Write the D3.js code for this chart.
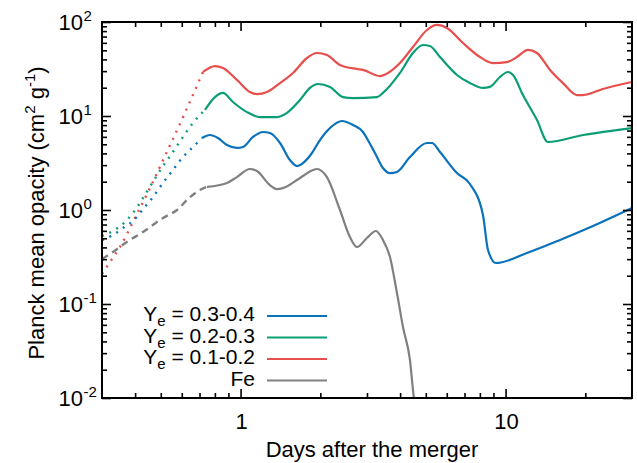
<!DOCTYPE html>
<html><head><meta charset="utf-8">
<script src="https://cdn.jsdelivr.net/npm/d3@7"></script>
<style>
body{margin:0;background:#fff;}
text{font-family:"Liberation Sans", Arial, Helvetica, sans-serif;fill:#000;}
</style></head><body>
<svg id="chart" width="637" height="463"></svg>
<script>
// ---------- data ----------
// Ye = 0.1-0.2 (red)
const redEarlyDays = [0.300, 0.3215, 0.3507, 0.3996, 0.455, 0.5184, 0.6168, 0.7212];
const redEarlyVals = [0.209, 0.28, 0.404, 0.822, 1.71, 3.75, 10.8, 29.4];
const redDays = [0.7212, 0.8005, 0.8584, 0.9692, 1.085, 1.153, 1.258, 1.409, 1.577, 1.781, 1.942, 2.118, 2.372, 2.75, 2.897, 3.357, 3.6, 3.995, 4.472, 5.05, 5.51, 6.009, 6.906, 8.007, 8.964, 10.12, 11.04, 12.15, 13.14, 14.71, 16.47, 18.6, 19.6, 23.31, 30];
const redVals = [29.4, 34.0, 32.4, 24.2, 18.0, 17.1, 18.0, 22.4, 28.7, 41.4, 46.8, 44.5, 34.9, 31.6, 30.9, 26.6, 28.7, 36.6, 54.2, 82.2, 93, 86.3, 59.8, 42.4, 36.6, 37.5, 42.4, 50.4, 46.8, 30.9, 22.4, 16.7, 16.7, 19.4, 23.0];
// Ye = 0.2-0.3 (green)
const greenEarlyDays = [0.300, 0.330, 0.3598, 0.3926, 0.4282, 0.467, 0.5095, 0.5556, 0.6062, 0.661, 0.7029, 0.7339];
const greenEarlyVals = [0.529, 0.598, 0.71, 0.93, 1.34, 1.99, 2.94, 4.14, 5.98, 8.43, 10.25, 11.6];
const greenDays = [0.7339, 0.8005, 0.8584, 0.9361, 1.057, 1.184, 1.372, 1.497, 1.676, 1.828, 1.959, 2.175, 2.435, 2.656, 3.271, 3.446, 3.995, 4.472, 4.878, 5.184, 5.656, 6.556, 7.337, 8.217, 8.733, 9.526, 10.21, 10.67, 11.63, 13.14, 14.45, 19.6, 30];
const greenVals = [11.6, 15.9, 17.6, 14.1, 11.0, 9.75, 9.75, 10.8, 14.8, 19.9, 21.9, 20.4, 15.9, 15.5, 15.9, 17.6, 28.7, 46.8, 56.9, 55.6, 42.4, 27.3, 22.4, 19.9, 20.4, 26.0, 29.4, 27.3, 16.7, 9.06, 5.29, 6.28, 7.45];
// Ye = 0.3-0.4 (blue)
const blueEarlyDays = [0.300, 0.330, 0.3598, 0.3926, 0.4282, 0.467, 0.5095, 0.5556, 0.6062, 0.644, 0.6848, 0.715];
const blueEarlyVals = [0.48, 0.542, 0.644, 0.764, 1.02, 1.37, 1.94, 2.66, 3.66, 4.35, 5.16, 5.83];
const blueDays = [0.715, 0.7665, 0.8216, 0.8886, 0.9692, 1.021, 1.114, 1.215, 1.291, 1.409, 1.536, 1.633, 1.72, 1.86, 1.993, 2.175, 2.414, 2.656, 2.897, 3.052, 3.215, 3.446, 3.663, 3.892, 4.357, 5.05, 5.276, 5.656, 6.556, 7.337, 8.217, 8.583, 9.2, 12.04, 16.05, 21.37, 30];
const blueVals = [5.83, 6.28, 5.83, 4.91, 4.57, 4.68, 5.98, 6.76, 6.59, 5.16, 3.40, 2.94, 3.16, 4.04, 5.55, 7.45, 8.85, 8.02, 6.76, 5.29, 4.04, 2.80, 2.47, 2.54, 3.66, 5.16, 5.16, 4.14, 2.47, 1.89, 0.885, 0.375, 0.273, 0.349, 0.48, 0.676, 1.05];
// Fe (gray)
const feEarlyDays = [0.300, 0.330, 0.3725, 0.4282, 0.5095, 0.5754, 0.644, 0.6907, 0.7468];
const feEarlyVals = [0.301, 0.357, 0.457, 0.583, 0.822, 1.0, 1.37, 1.59, 1.76];
const feDays = [0.7468, 0.8886, 0.9692, 1.085, 1.153, 1.291, 1.372, 1.445, 1.676, 1.876, 1.942, 2.118, 2.372, 2.587, 2.75, 2.999, 3.243, 3.446, 3.663, 3.892, 4.101, 4.357, 4.511, 4.54];
const feVals = [1.76, 1.94, 2.24, 2.73, 2.60, 1.84, 1.67, 1.71, 2.19, 2.66, 2.73, 2.24, 1.0, 0.516, 0.404, 0.504, 0.598, 0.48, 0.316, 0.131, 0.0569, 0.0254, 0.01, 0.009];

const xMajorTicks = [1, 10];
const xMajorLabels = ["1", "10"];
const xMinorTicks = [0.4, 0.5, 0.6, 0.7, 0.8, 0.9, 2, 3, 4, 5, 6, 7, 8, 9, 20];
const yMajorExps = [-2, -1, 0, 1, 2];
const legendRanges = ["0.3-0.4", "0.2-0.3", "0.1-0.2"];
const legendOther = "Fe";
const xTitle = "Days after the merger";

// ---------- layout ----------
const W = 637, H = 463;
const L = 102, R = 632, T = 22, B = 398;
const svg = d3.select("#chart");
const x = d3.scaleLog().domain([0.3, 30]).range([L, R]);
const y = d3.scaleLog().domain([0.01, 100]).range([B, T]);

const yMajorTicks = yMajorExps.map(e => Math.pow(10, e));
const yMinorTicks = [];
yMajorExps.slice(0, -1).forEach(e => { for (let k = 2; k <= 9; k++) yMinorTicks.push(k * Math.pow(10, e)); });

const series = [
  {name: "blue", color: "#0a72bb", early: d3.zip(blueEarlyDays, blueEarlyVals), main: d3.zip(blueDays, blueVals), dash: "2,6"},
  {name: "green", color: "#0b9e76", early: d3.zip(greenEarlyDays, greenEarlyVals), main: d3.zip(greenDays, greenVals), dash: "2,6"},
  {name: "red", color: "#e64f4c", early: d3.zip(redEarlyDays, redEarlyVals), main: d3.zip(redDays, redVals), dash: "2,6"},
  {name: "fe", color: "#808080", early: d3.zip(feEarlyDays, feEarlyVals), main: d3.zip(feDays, feVals), dash: "7,5"}
];

svg.append("defs").append("clipPath").attr("id", "clip")
  .append("rect").attr("x", L).attr("y", T).attr("width", R - L).attr("height", B - T);

const line = d3.line().x(d => x(d[0])).y(d => y(d[1])).curve(d3.curveMonotoneX);
const g = svg.append("g").attr("clip-path", "url(#clip)");
// draw order: Fe, red, green, blue (blue on top)
[3, 2, 1, 0].forEach(i => {
  const s = series[i];
  g.append("path").attr("d", line(s.early)).attr("fill", "none").attr("stroke", s.color)
    .attr("stroke-width", 2.4).attr("stroke-dasharray", s.dash);
  g.append("path").attr("d", line(s.main)).attr("fill", "none").attr("stroke", s.color)
    .attr("stroke-width", 2.2).attr("stroke-linejoin", "round");
});

// ---------- axes ----------
function addAxis(axis, tr) {
  const a = svg.append("g").attr("transform", tr).call(axis);
  a.select(".domain").remove();
  a.selectAll(".tick line").attr("stroke", "#000").attr("stroke-width", 1.6);
  return a;
}
addAxis(d3.axisBottom(x).tickValues(xMajorTicks).tickSize(-9).tickSizeOuter(0).tickFormat(() => ""), `translate(0,${B})`);
addAxis(d3.axisBottom(x).tickValues(xMinorTicks).tickSize(-5).tickSizeOuter(0).tickFormat(() => ""), `translate(0,${B})`);
addAxis(d3.axisTop(x).tickValues(xMajorTicks).tickSize(-9).tickSizeOuter(0).tickFormat(() => ""), `translate(0,${T})`);
addAxis(d3.axisTop(x).tickValues(xMinorTicks).tickSize(-5).tickSizeOuter(0).tickFormat(() => ""), `translate(0,${T})`);
addAxis(d3.axisLeft(y).tickValues(yMajorTicks).tickSize(-9).tickSizeOuter(0).tickFormat(() => ""), `translate(${L},0)`);
addAxis(d3.axisLeft(y).tickValues(yMinorTicks).tickSize(-5).tickSizeOuter(0).tickFormat(() => ""), `translate(${L},0)`);
addAxis(d3.axisRight(y).tickValues(yMajorTicks).tickSize(-9).tickSizeOuter(0).tickFormat(() => ""), `translate(${R},0)`);
addAxis(d3.axisRight(y).tickValues(yMinorTicks).tickSize(-5).tickSizeOuter(0).tickFormat(() => ""), `translate(${R},0)`);

svg.append("rect").attr("x", L).attr("y", T).attr("width", R - L).attr("height", B - T)
  .attr("fill", "none").attr("stroke", "#000").attr("stroke-width", 2);

// x tick labels
xMajorTicks.forEach((v, i) => {
  svg.append("text").attr("x", x(v) + 1).attr("y", 429).attr("text-anchor", "middle")
    .attr("font-size", 22).text(xMajorLabels[i]);
});
// y tick labels (10^n)
yMajorExps.forEach(e => {
  const yy = y(Math.pow(10, e));
  svg.append("text").attr("x", 83).attr("y", yy + 8).attr("text-anchor", "end")
    .attr("font-size", 22).text("10");
  svg.append("text").attr("x", 83.5).attr("y", yy - 1.5).attr("text-anchor", "start")
    .attr("font-size", 15).text(String(e));
});

// axis titles
svg.append("text").attr("x", 372).attr("y", 457).attr("text-anchor", "middle")
  .attr("font-size", 22).text(xTitle);
const yt = svg.append("text").attr("transform", "translate(44,213) rotate(-90)")
  .attr("text-anchor", "middle").attr("font-size", 22);
yt.append("tspan").text("Planck mean opacity (cm");
yt.append("tspan").attr("font-size", 15).attr("dy", -9).text("2");
yt.append("tspan").attr("dy", 9).text(" g");
yt.append("tspan").attr("font-size", 15).attr("dy", -9).text("-1");
yt.append("tspan").attr("dy", 9).text(")");

// legend
const legRows = [316, 337.5, 359, 380.5];
series.forEach((s, i) => {
  const ly = legRows[i];
  svg.append("line").attr("x1", 267).attr("x2", 327).attr("y1", ly).attr("y2", ly)
    .attr("stroke", s.color).attr("stroke-width", 2.2);
  const t = svg.append("text").attr("x", 255).attr("y", ly + 5).attr("text-anchor", "end").attr("font-size", 21);
  if (i < 3) {
    t.append("tspan").text("Y");
    t.append("tspan").attr("font-size", 15).attr("dy", 5).text("e");
    t.append("tspan").attr("dy", -5).text(" = " + legendRanges[i]);
  } else {
    t.text(legendOther);
  }
});
</script>
</body></html>
